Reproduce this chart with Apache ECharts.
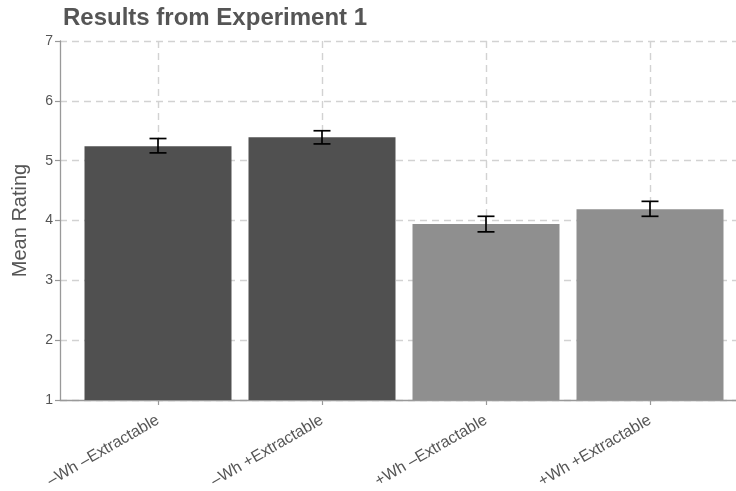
<!DOCTYPE html>
<html>
<head>
<meta charset="utf-8">
<script src="https://cdn.jsdelivr.net/npm/echarts@6/dist/echarts.min.js"></script>
<style>html,body{margin:0;padding:0;background:#fff}#c{width:736px;height:491px}</style>
</head>
<body>
<div id="c"></div>
<script>
var categories = ['\u2013Wh \u2013Extractable', '\u2013Wh +Extractable', '+Wh \u2013Extractable', '+Wh +Extractable'];
var means = [5.24, 5.39, 3.94, 4.19];
var lower = [5.13, 5.28, 3.81, 4.07];
var upper = [5.37, 5.50, 4.07, 4.32];
var barColors = ['#505050', '#505050', '#8f8f8f', '#8f8f8f'];
var yTicks = [1, 2, 3, 4, 5, 6, 7];

var chart = echarts.init(document.getElementById('c'), null, {renderer: 'canvas'});
var font = 'Liberation Sans, Arial, sans-serif';
var dash = {color: '#d2d2d2', type: [7, 5], width: 1.4};

chart.setOption({
  animation: false,
  title: {text: 'Results from Experiment 1', left: 58, top: 1,
    textStyle: {fontFamily: font, fontSize: 24, fontWeight: 'bold', color: '#555'}},
  grid: [
    {left: 76, right: 4, top: 41, bottom: 91},
    {left: 60, right: 0, top: 41, bottom: 91},
    {left: 158, right: 86, top: 41, bottom: 91}
  ],
  xAxis: [
    {type: 'category', gridIndex: 0, data: categories,
      axisLine: {show: false},
      axisTick: {show: true, alignWithLabel: true, length: 5, lineStyle: {color: '#999', width: 1.2}},
      axisLabel: {rotate: 30, margin: 19, fontFamily: font, fontSize: 16, color: '#555'},
      splitLine: {show: false}},
    {type: 'value', gridIndex: 1, min: 0, max: 1,
      axisLine: {show: true, lineStyle: {color: '#999', width: 1.3}},
      axisTick: {show: false}, axisLabel: {show: false}, splitLine: {show: false}},
    {type: 'value', gridIndex: 2, min: 0, max: 3, interval: 1,
      axisLine: {show: false}, axisTick: {show: false}, axisLabel: {show: false},
      splitLine: {show: true, showMinLine: true, showMaxLine: true, lineStyle: dash}}
  ],
  yAxis: [
    {type: 'value', gridIndex: 0, min: 1, max: 7, interval: 1, show: false, splitLine: {show: false}},
    {type: 'value', gridIndex: 1, min: 1, max: 7, interval: 1,
      name: 'Mean Rating', nameLocation: 'middle', nameGap: 30,
      nameTextStyle: {fontFamily: font, fontSize: 20, color: '#555'},
      axisLine: {show: true, lineStyle: {color: '#999', width: 1.3}},
      axisTick: {show: true, length: 5, lineStyle: {color: '#999', width: 1.2}},
      axisLabel: {fontFamily: font, fontSize: 14, color: '#555', margin: 7},
      splitLine: {show: true, lineStyle: dash}},
    {type: 'value', gridIndex: 2, min: 1, max: 7, interval: 1, show: false, splitLine: {show: false}}
  ],
  series: [
    {type: 'bar', xAxisIndex: 0, yAxisIndex: 0, barWidth: 147, z: 2,
      data: means.map(function (v, i) { return {value: v, itemStyle: {color: barColors[i]}}; })},
    {type: 'custom', xAxisIndex: 0, yAxisIndex: 0, z: 3,
      data: categories.map(function (c, i) { return [i, lower[i], upper[i]]; }),
      renderItem: function (params, api) {
        var lo = api.coord([api.value(0), api.value(1)]);
        var hi = api.coord([api.value(0), api.value(2)]);
        var x = lo[0], w = 8.5;
        var st = {stroke: '#000', lineWidth: 1.7};
        return {type: 'group', children: [
          {type: 'line', shape: {x1: x, y1: lo[1], x2: x, y2: hi[1]}, style: st},
          {type: 'line', shape: {x1: x - w, y1: lo[1], x2: x + w, y2: lo[1]}, style: st},
          {type: 'line', shape: {x1: x - w, y1: hi[1], x2: x + w, y2: hi[1]}, style: st}
        ]};
      }}
  ]
});
</script>
</body>
</html>
